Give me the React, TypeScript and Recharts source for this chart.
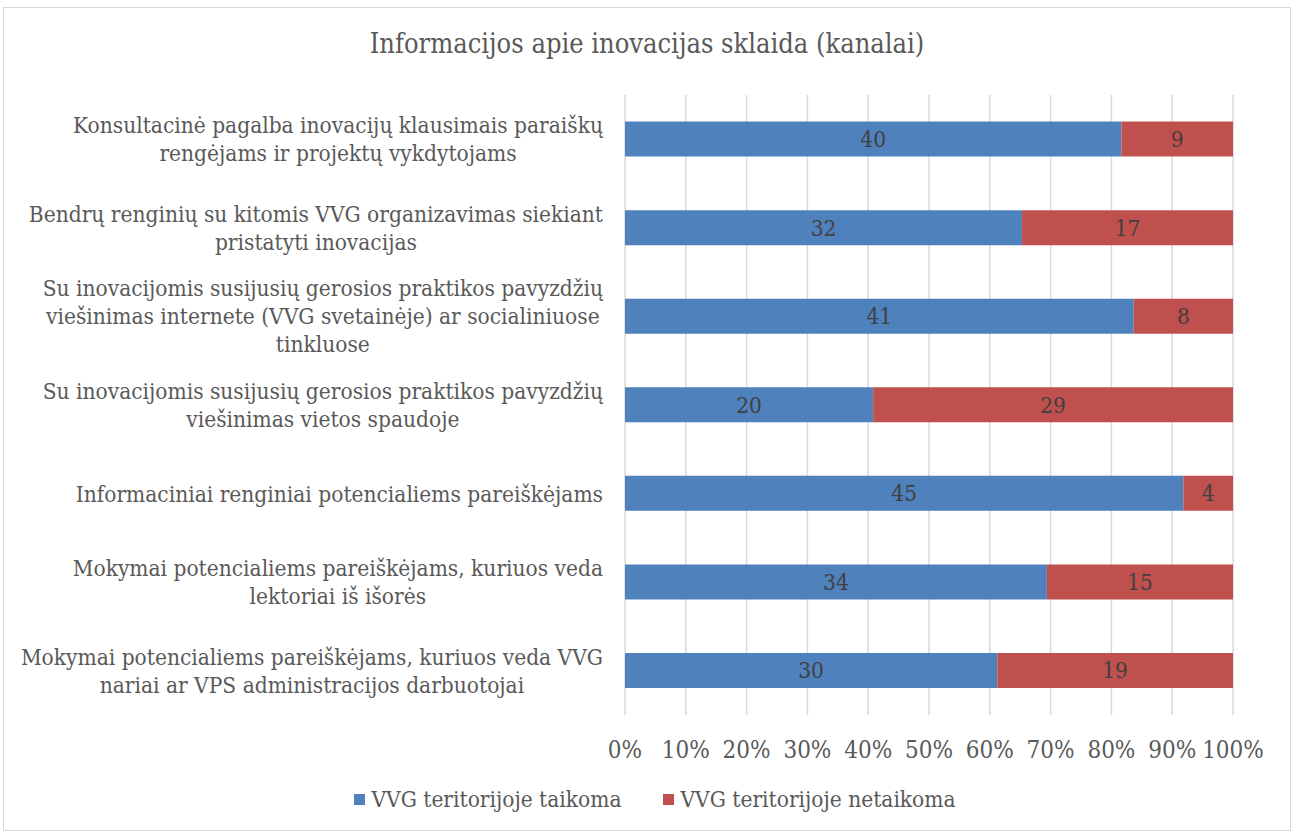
import React from 'react';
import { BarChart, Bar, XAxis, YAxis, CartesianGrid, LabelList } from 'recharts';

const categories = [
    'Konsultacinė pagalba inovacijų klausimais paraiškų\nrengėjams ir projektų vykdytojams',
    'Bendrų renginių su kitomis VVG organizavimas siekiant\npristatyti inovacijas',
    'Su inovacijomis susijusių gerosios praktikos pavyzdžių\nviešinimas internete (VVG svetainėje) ar socialiniuose\ntinkluose',
    'Su inovacijomis susijusių gerosios praktikos pavyzdžių\nviešinimas vietos spaudoje',
    'Informaciniai renginiai potencialiems pareiškėjams',
    'Mokymai potencialiems pareiškėjams, kuriuos veda\nlektoriai iš išorės',
    'Mokymai potencialiems pareiškėjams, kuriuos veda VVG\nnariai ar VPS administracijos darbuotojai',
];
const taikoma = [40, 32, 41, 20, 45, 34, 30];
const netaikoma = [9, 17, 8, 29, 4, 15, 19];
const xTicks = [0, 0.1, 0.2, 0.3, 0.4, 0.5, 0.6, 0.7, 0.8, 0.9, 1];
const seriesNames = ['VVG teritorijoje taikoma', 'VVG teritorijoje netaikoma'];

const data = categories.map((name, i) => ({ name, taikoma: taikoma[i], netaikoma: netaikoma[i] }));

const FONT = '"DejaVu Serif Condensed", "DejaVu Serif", serif';
const TEXT = '#595959';
const BLUE = '#4F81BD';
const RED = '#C0504D';
const FS = 22.5;
const LABEL_RIGHT = 603;

let ctx: CanvasRenderingContext2D | null = null;
const measure = (s: string) => {
    if (!ctx) ctx = document.createElement('canvas').getContext('2d');
    if (!ctx) return s.length * FS * 0.5;
    ctx.font = `${FS}px "DejaVu Serif Condensed", "DejaVu Serif", serif`;
    (ctx as any).fontStretch = 'condensed';
    return ctx.measureText(s).width;
};

// lines centred on each other, block right-aligned next to the plot
const CategoryTick = (props: any) => {
    const { y, payload } = props;
    const lines: string[] = String(payload.value).split('\n');
    const w = Math.max(...lines.map(measure));
    const cx = LABEL_RIGHT - w / 2;
    const lh = 28;
    const start = -((lines.length - 1) * lh) / 2;
    return (
        <text x={cx} y={y} textAnchor='middle' fill={TEXT} fontSize={FS} fontFamily={FONT} style={{ fontStretch: 'condensed' }}>
            {lines.map((l, i) => (
                <tspan key={i} x={cx} dy={i === 0 ? start + 8 : lh}>{l}</tspan>
            ))}
        </text>
    );
};

const PercentTick = (props: any) => {
    const { x, y, payload } = props;
    return (
        <text x={x} y={y + 35} textAnchor='middle' fill={TEXT} fontSize={24} fontFamily={FONT} style={{ fontStretch: 'condensed' }}>
            {Math.round(payload.value * 100) + '%'}
        </text>
    );
};

export default function App() {
    return (
        <div style={{ position: 'absolute', left: 0, top: 0, width: 1294, height: 834, background: '#fff' }}>
            <div style={{ position: 'absolute', left: 3, top: 7, width: 1286, height: 822, border: '1px solid #d9d9d9' }} />
            <div style={{ position: 'absolute', left: 0, top: 28, width: 1294, textAlign: 'center', fontFamily: FONT, fontStretch: 'condensed', fontSize: 27, color: TEXT }}>
                Informacijos apie inovacijas sklaida (kanalai)
            </div>
            <div style={{ position: 'absolute', left: 0, top: 0 }}>
                <BarChart
                    width={1294}
                    height={834}
                    data={data}
                    layout='vertical'
                    stackOffset='expand'
                    barCategoryGap='30%'
                    margin={{ top: 95, right: 61, bottom: 80, left: 0 }}
                >
                    <CartesianGrid horizontal={false} stroke='#d9d9d9' strokeWidth={1.5} />
                    <XAxis type='number' domain={[0, 1]} ticks={xTicks} tick={<PercentTick />} axisLine={false} tickLine={false} height={39} interval={0} />
                    <YAxis type='category' dataKey='name' width={625} tick={<CategoryTick />} axisLine={false} tickLine={false} interval={0} />
                    <Bar dataKey='taikoma' stackId='a' fill={BLUE} isAnimationActive={false}>
                        <LabelList dataKey='taikoma' position='center' fill='#404040' fontSize={FS} fontFamily={FONT} style={{ fontStretch: 'condensed' }} />
                    </Bar>
                    <Bar dataKey='netaikoma' stackId='a' fill={RED} isAnimationActive={false}>
                        <LabelList dataKey='netaikoma' position='center' fill='#404040' fontSize={FS} fontFamily={FONT} style={{ fontStretch: 'condensed' }} />
                    </Bar>
                </BarChart>
            </div>
            <div style={{ position: 'absolute', left: 0, top: 786, width: 1294, display: 'flex', justifyContent: 'center', gap: 42, paddingLeft: 16, boxSizing: 'border-box', fontFamily: FONT, fontStretch: 'condensed', fontSize: FS, color: TEXT }}>
                {seriesNames.map((n, i) => (
                    <div key={n} style={{ display: 'flex', alignItems: 'center' }}>
                        <span style={{ display: 'inline-block', width: 11, height: 11, background: i === 0 ? BLUE : RED, marginRight: 6 }} />
                        <span>{n}</span>
                    </div>
                ))}
            </div>
        </div>
    );
}
